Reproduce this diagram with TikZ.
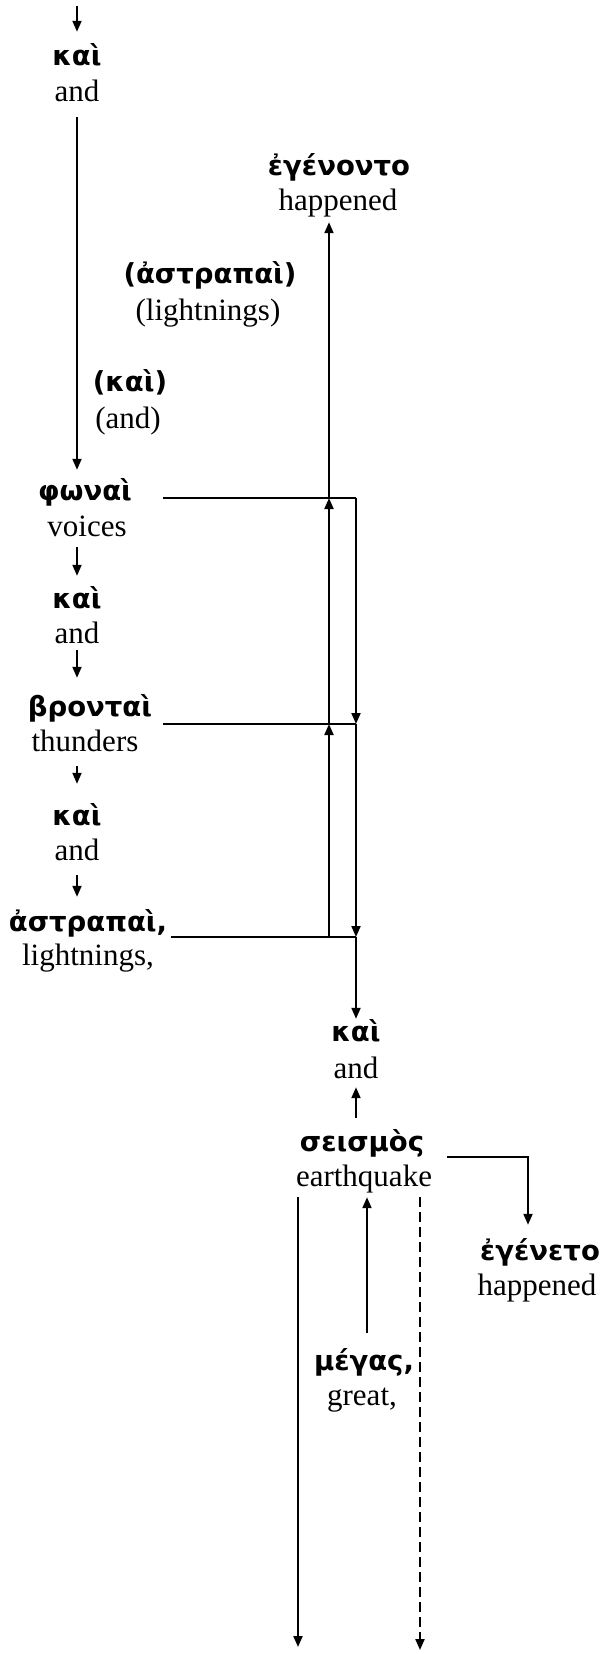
\documentclass[tikz,border=0pt]{standalone}
\usepackage{fontspec}
\setmainfont{Liberation Serif}
\newfontfamily\gkfont{DejaVu Sans}
\usetikzlibrary{arrows.meta,calc}
\begin{document}
\begin{tikzpicture}[x=1pt,y=-1pt,
  gk/.style={inner sep=0pt,text height=22pt,text depth=6pt,font=\gkfont\bfseries\fontsize{27.5}{33}\selectfont},
  en/.style={inner sep=0pt,text height=22pt,text depth=6pt,font=\fontsize{31}{37}\selectfont},
  arr/.style={-{Triangle[length=11pt,width=9pt]},line width=2pt},
  hl/.style={line width=1.5pt},
  dsh/.style={arr,dash pattern=on 10pt off 5pt}]
\useasboundingbox (0,0) rectangle (602,1654);
% words
\node[gk] (kai1) at (77,58) {καὶ};
\node[en] (kai1en) at (77,93) {and};
\node[gk] (egto) at (339,167) {ἐγένοντο};
\node[en] (egtoen) at (338,202) {happened};
\node[gk] (pastr) at (210,275) {(ἀστραπαὶ)};
\node[en] (pastren) at (208,312) {(lightnings)};
\node[gk] (pkai) at (130,383) {(καὶ)};
\node[en] (pkaien) at (128,420) {(and)};
\node[gk] (phon) at (85,492) {φωναὶ};
\node[en] (phonen) at (87,528) {voices};
\node[gk] (kai2) at (77,600) {καὶ};
\node[en] (kai2en) at (77,635) {and};
\node[gk] (bront) at (90,708) {βρονταὶ};
\node[en] (bronten) at (85,743) {thunders};
\node[gk] (kai3) at (77,817) {καὶ};
\node[en] (kai3en) at (77,852) {and};
\node[gk] (astr) at (88,923) {ἀστραπαὶ,};
\node[en] (astren) at (88,957) {lightnings,};
\node[gk] (kai4) at (356,1033) {καὶ};
\node[en] (kai4en) at (356,1070) {and};
\node[gk] (seis) at (362,1143) {σεισμὸς};
\node[en] (seisen) at (364,1178) {earthquake};
\node[gk] (egeto) at (540,1252) {ἐγένετο};
\node[en] (egetoen) at (537,1287) {happened};
\node[gk] (meg) at (364,1362) {μέγας,};
\node[en] (megen) at (362,1397) {great,};
% junction coordinates
\coordinate (top) at (77,6);
\coordinate (phL) at (163,498);
\coordinate (phU) at (329,498);
\coordinate (phR) at (356,498);
\coordinate (brL) at (163,724);
\coordinate (brU) at (329,724);
\coordinate (brR) at (356,724);
\coordinate (asL) at (171,937);
\coordinate (asU) at (329,937);
\coordinate (asR) at (356,937);
\coordinate (seR) at (447,1157);
\coordinate (bot1) at (298,1647);
\coordinate (bot2) at (420,1650);
% left chain
\draw[arr,shorten >=12pt] (top) -- (top |- kai1.north);
\draw[arr,shorten <=10pt,shorten >=8pt] (kai1en.south) -- (kai1en.south |- phon.north);
\draw[arr,shorten <=5pt,shorten >=10pt] (kai2.north |- phonen.south) -- (kai2.north);
\draw[arr,shorten <=1pt,shorten >=16pt] (kai2en.south) -- (kai2en.south |- bront.north);
\draw[arr,shorten <=9pt,shorten >=19pt] (kai3.north |- bronten.south) -- (kai3.north);
\draw[arr,shorten <=9pt,shorten >=12pt] (kai3en.south) -- (kai3en.south |- astr.north);
% horizontal lines
\draw[hl] (phL) -- (phR);
\draw[hl] (brL) -- (brR);
\draw[hl] (asL) -- (asR);
% up chain
\draw[arr] (asU) -- (brU);
\draw[arr] (brU) -- (phU);
\draw[arr,shorten >=6pt] (phU) -- (phU |- egtoen.south);
% down chain
\draw[arr] (phR) -- (brR);
\draw[arr] (brR) -- (asR);
\draw[arr] (asR) -- (asR |- kai4.north);
% lower part
\draw[arr,shorten <=11pt,shorten >=3pt] (kai4en.south |- seis.north) -- (kai4en.south);
\draw[arr,shorten >=13pt] (seR) -| ([xshift=-12pt]egeto.north);
\draw[arr,shorten <=15pt,shorten >=5pt] ([xshift=3pt]meg.north) -- ([xshift=3pt]meg.north |- seisen.south);
\draw[arr,shorten <=5pt] (bot1 |- seisen.south) -- (bot1);
\draw[dsh,shorten <=5pt] (bot2 |- seisen.south) -- (bot2);
\end{tikzpicture}
\end{document}
